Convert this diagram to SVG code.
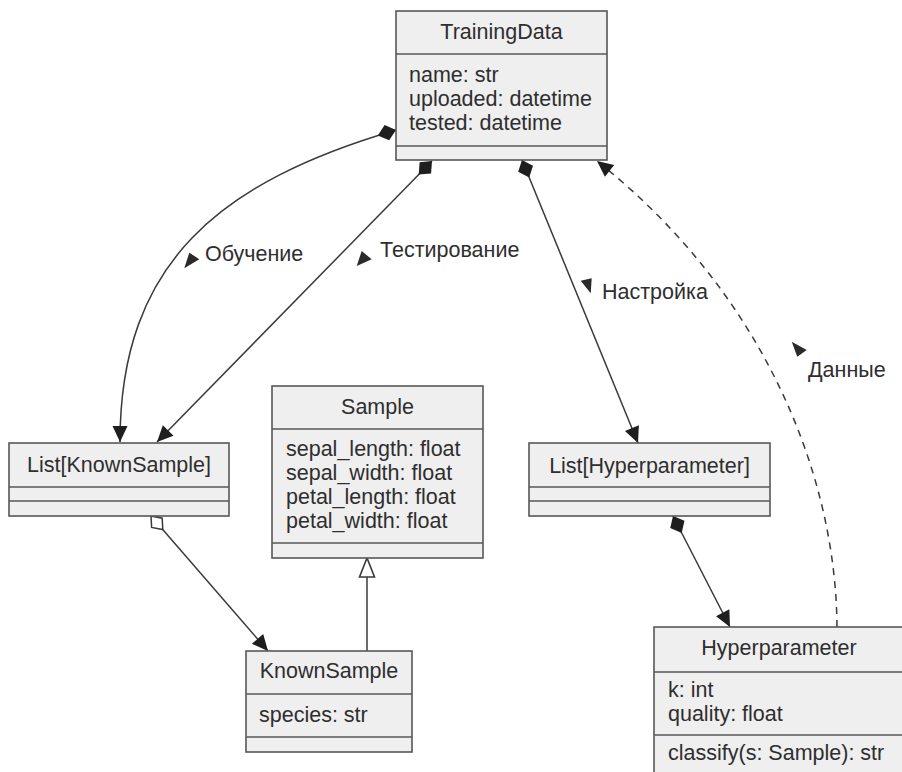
<svg xmlns="http://www.w3.org/2000/svg" width="902" height="772" viewBox="0 0 902 772">
<defs>
<style>
.box{fill:#efefef;stroke:#575757;stroke-width:1.6}
.sep{stroke:#575757;stroke-width:1.6}
text{font-family:"Liberation Sans",Arial,sans-serif;font-size:21.5px;fill:#2e2e2e}
.t{text-anchor:middle}
.ln{fill:none;stroke:#3a3a3a;stroke-width:1.5}
.dash{stroke-dasharray:7 6}
.tri{fill:#2a2a2a}
</style>
<marker id="dia" markerUnits="userSpaceOnUse" orient="auto" refX="0" refY="0" markerWidth="50" markerHeight="50" viewBox="-25 -25 50 50">
<path d="M0,0 L9.5,-8 L19,0 L9.5,8 z" fill="#1e1e1e"/>
</marker>
<marker id="odia" markerUnits="userSpaceOnUse" orient="auto" refX="0" refY="0" markerWidth="50" markerHeight="50" viewBox="-25 -25 50 50">
<path d="M0,0 L9,-7 L18,0 L9,7 z" fill="#ffffff" stroke="#3a3a3a" stroke-width="1.5"/>
</marker>
<marker id="arr" markerUnits="userSpaceOnUse" orient="auto" refX="0" refY="0" markerWidth="50" markerHeight="50" viewBox="-25 -25 50 50">
<path d="M0,0 L-16,-7.5 L-16,7.5 z" fill="#1e1e1e"/>
</marker>
<marker id="gen" markerUnits="userSpaceOnUse" orient="auto" refX="0" refY="0" markerWidth="50" markerHeight="50" viewBox="-25 -25 50 50">
<path d="M0,0 L-19,-7.5 L-19,7.5 z" fill="#ffffff" stroke="#3a3a3a" stroke-width="1.6"/>
</marker>
</defs>
<rect width="902" height="772" fill="#ffffff"/>

<g id="connectors">
<path class="ln" d="M396,130 C220,182 120,262 120,442" marker-start="url(#dia)" marker-end="url(#arr)"/>
<path class="ln" d="M432,161 L157,442" marker-start="url(#dia)" marker-end="url(#arr)"/>
<path class="ln" d="M522,160 L638,443" marker-start="url(#dia)" marker-end="url(#arr)"/>
<path class="ln dash" d="M837,627 C836,470 760,290 597,161" marker-end="url(#arr)"/>
<path class="ln" d="M151,516 L268,651" marker-start="url(#odia)" marker-end="url(#arr)"/>
<path class="ln" d="M673,516 L730,627" marker-start="url(#dia)" marker-end="url(#arr)"/>
<path class="ln" d="M367,651 L367,558" marker-end="url(#gen)"/>
<polygon class="tri" points="184.3,268.3 189.3,252.7 199.3,259.3"/>
<text x="205" y="261">Обучение</text>
<polygon class="tri" points="356.7,266 361.7,251 371.7,259.3"/>
<text x="380" y="257">Тестирование</text>
<polygon class="tri" points="580.7,280.7 591.7,278.3 590.7,293.3"/>
<text x="602" y="299">Настройка</text>
<polygon class="tri" points="791.7,341.7 806.7,350 797.3,356.7"/>
<text x="808" y="377">Данные</text>
</g>

<g id="TrainingData">
<rect class="box" x="396" y="11" width="211" height="149"/>
<line class="sep" x1="396" y1="54" x2="607" y2="54"/>
<line class="sep" x1="396" y1="146" x2="607" y2="146"/>
<text class="t" x="501.5" y="39">TrainingData</text>
<text x="409" y="82">name: str</text>
<text x="409" y="106">uploaded: datetime</text>
<text x="409" y="130">tested: datetime</text>
</g>

<g id="ListKnownSample">
<rect class="box" x="9" y="443" width="220" height="73"/>
<line class="sep" x1="9" y1="487" x2="229" y2="487"/>
<line class="sep" x1="9" y1="501" x2="229" y2="501"/>
<text class="t" x="119" y="472">List[KnownSample]</text>
</g>

<g id="Sample">
<rect class="box" x="272" y="386" width="211" height="172"/>
<line class="sep" x1="272" y1="429" x2="483" y2="429"/>
<line class="sep" x1="272" y1="543" x2="483" y2="543"/>
<text class="t" x="377.5" y="414">Sample</text>
<text x="286" y="456">sepal_length: float</text>
<text x="286" y="480">sepal_width: float</text>
<text x="286" y="504">petal_length: float</text>
<text x="286" y="528">petal_width: float</text>
</g>

<g id="ListHyperparameter">
<rect class="box" x="529" y="443" width="241" height="73"/>
<line class="sep" x1="529" y1="487" x2="770" y2="487"/>
<line class="sep" x1="529" y1="501" x2="770" y2="501"/>
<text class="t" x="649.5" y="473">List[Hyperparameter]</text>
</g>

<g id="KnownSample">
<rect class="box" x="246" y="651" width="166" height="101"/>
<line class="sep" x1="246" y1="694" x2="412" y2="694"/>
<line class="sep" x1="246" y1="737" x2="412" y2="737"/>
<text class="t" x="329" y="678">KnownSample</text>
<text x="259" y="722">species: str</text>
</g>

<g id="Hyperparameter">
<rect class="box" x="654" y="627" width="252" height="160"/>
<line class="sep" x1="654" y1="672" x2="906" y2="672"/>
<line class="sep" x1="654" y1="735" x2="906" y2="735"/>
<text class="t" x="779" y="655">Hyperparameter</text>
<text x="668" y="697">k: int</text>
<text x="668" y="721">quality: float</text>
<text x="668" y="760">classify(s: Sample): str</text>
</g>
</svg>
